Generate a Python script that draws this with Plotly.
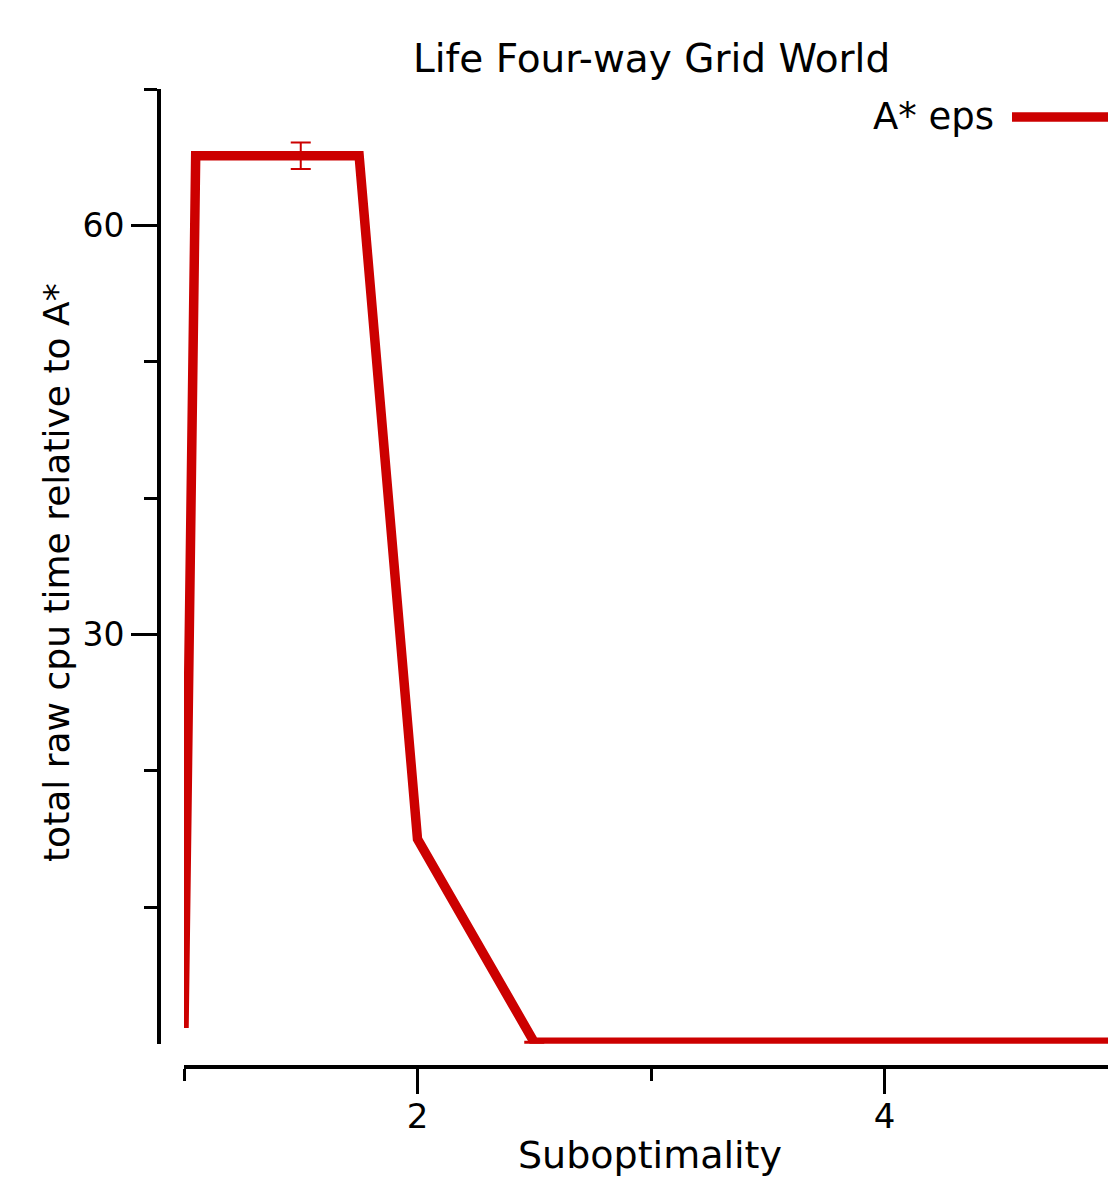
import plotly.graph_objects as go

# ---- data ----
subopt = [1.0, 1.05, 1.5, 1.75, 2.0, 2.5, 3.0, 4.0, 5.0]
cpu_rel = [1.15, 65.1, 65.1, 65.1, 15.0, 0.1, 0.1, 0.1, 0.1]
err_x = [1.5, 2.5]
err_y = [65.1, 0.1]
err_size = [0.97, 0.05]
series_name = "A* eps"
x_major = [2, 4]
x_minor = [1, 3, 5]
y_major = [30, 60]
y_minor = [10, 20, 40, 50, 70]

RED = "rgb(204,0,0)"
FONT = "DejaVu Sans"

W, H = 1108, 1179
L, R, T, B = 159, 1108, 89, 1067


def px_x(p):
    return (p - L) / (R - L)


def px_y(p):
    return (B - p) / (B - T)


fig = go.Figure()
fig.add_trace(go.Scatter(
    x=subopt, y=cpu_rel, mode="lines", name=series_name,
    line=dict(color=RED, width=9.5), showlegend=False,
))
fig.add_trace(go.Scatter(
    x=err_x, y=err_y, mode="markers",
    marker=dict(size=1, color="rgba(0,0,0,0)"),
    error_y=dict(type="data", array=err_size, visible=True,
                 color=RED, thickness=2, width=10),
    showlegend=False, hoverinfo="skip",
))

fig.update_layout(
    width=W, height=H,
    margin=dict(l=L, r=W - R, t=T, b=H - B, pad=0),
    plot_bgcolor="white", paper_bgcolor="white",
    font=dict(family=FONT, color="black"),
    showlegend=False,
    xaxis=dict(
        domain=[px_x(184), 1], anchor="free", position=0,
        range=[1, 1 + (1108 - 184) / 233.5],
        showgrid=False, zeroline=False,
        showline=True, linecolor="black", linewidth=4,
        tickmode="array", tickvals=x_major, ticktext=[str(v) for v in x_major],
        ticks="outside", ticklen=25, tickwidth=3, tickcolor="black",
        tickfont=dict(size=34, family=FONT), ticklabelstandoff=-7,
        minor=dict(tickmode="array", tickvals=x_minor, ticks="outside",
                   ticklen=12, tickwidth=3, tickcolor="black", showgrid=False),
    ),
    yaxis=dict(
        domain=[px_y(1043.7), 1], anchor="free", position=0,
        range=[0, 70],
        showgrid=False, zeroline=False,
        showline=True, linecolor="black", linewidth=4,
        tickmode="array", tickvals=y_major, ticktext=[str(v) for v in y_major],
        ticks="outside", ticklen=26, tickwidth=3, tickcolor="black",
        tickfont=dict(size=33, family=FONT), ticklabelstandoff=0,
        minor=dict(tickmode="array", tickvals=y_minor, ticks="outside",
                   ticklen=13, tickwidth=3, tickcolor="black", showgrid=False),
    ),
)

annotations = [
    dict(text="Life Four-way Grid World", x=px_x(651), y=px_y(59),
         font=dict(size=39, family=FONT)),
    dict(text="Suboptimality", x=px_x(650), y=px_y(1155),
         font=dict(size=38, family=FONT)),
    dict(text="total raw cpu time relative to A*", x=px_x(56), y=px_y(573),
         textangle=-90, font=dict(size=36, family=FONT)),
    dict(text=series_name, x=px_x(996), y=px_y(117), xanchor="right",
         font=dict(size=37, family=FONT)),
]
for a in annotations:
    a.setdefault("xanchor", "center")
    a.update(xref="paper", yref="paper", yanchor="middle", showarrow=False)
fig.update_layout(annotations=annotations)

fig.add_shape(type="line", xref="paper", yref="paper",
              x0=px_x(1012), x1=1.0, y0=px_y(117), y1=px_y(117),
              line=dict(color=RED, width=9.5))

fig.write_html("out.html")
